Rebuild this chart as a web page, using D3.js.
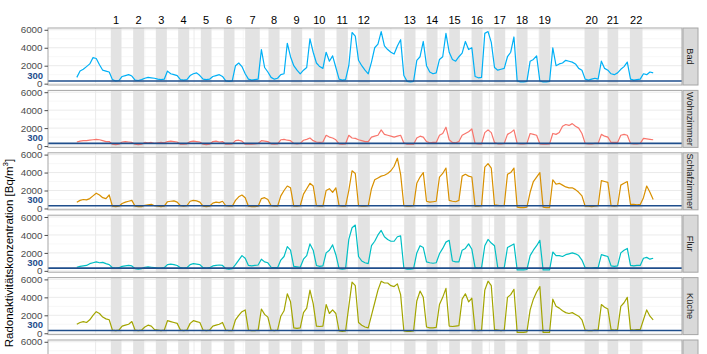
<!DOCTYPE html>
<html>
<head>
<meta charset="utf-8">
<script src="https://cdn.jsdelivr.net/npm/d3@7"></script>
<style>
  body { margin: 0; background: #fff; }
  svg { display: block; font-family: "Liberation Sans", Arial, sans-serif; }
</style>
</head>
<body>
<svg id="chart" width="707" height="354"></svg>
<script>
// rooms (facets) and their colours
const rooms = ["Bad", "Wohnzimmer", "Schlafzimmer", "Flur", "Küche", "Keller"];
const roomColors = ["#00B0F6", "#F8766D", "#D89000", "#00BFC4", "#A3A500", "#39B600"];

// daily values (Bq/m3), day 0 .. 178
const bad = [700,1400,1600,1900,2200,2900,2800,2100,1500,1400,1300,450,300,350,800,900,1000,850,400,350,450,600,700,650,600,500,450,500,1400,1100,1000,900,450,400,450,900,1100,1200,900,500,450,500,800,900,1000,800,300,250,300,2000,2300,1900,1100,500,400,450,500,3800,1800,1300,700,500,600,1000,1100,4500,3000,2000,1500,1100,1500,1800,5000,3500,2300,1900,1700,3500,2500,3100,1800,500,400,450,2000,5700,5300,2600,2000,1500,1100,2400,4000,4400,5800,4200,3800,3500,3300,4200,4900,900,250,200,250,2600,3000,4700,2000,1300,1100,1200,2700,3000,5600,3500,2700,2500,3000,3400,4700,3800,4000,800,650,700,5600,5800,4600,1800,1500,1600,1700,3000,3500,5200,300,200,200,250,2500,2700,3100,300,200,200,250,4000,2000,2200,2300,2600,2500,2400,2200,1700,1500,500,400,500,600,500,2500,1700,1500,1100,1000,1200,1600,1900,2400,500,400,450,500,1100,1000,1300,1200];
const wohnzimmer = [450,550,600,600,650,700,750,700,600,500,500,200,150,200,450,500,450,400,200,150,200,400,350,400,300,350,400,350,500,550,500,450,200,200,250,500,550,500,450,200,150,200,500,550,450,500,200,200,250,600,650,550,200,250,200,250,300,600,550,500,250,200,250,700,750,650,600,300,250,300,650,750,900,600,450,400,450,1200,1000,900,700,250,200,250,1200,900,850,700,600,500,500,1000,1100,1200,1800,1300,1200,1100,1000,1100,1200,350,200,250,200,900,1100,1000,500,350,400,400,1200,1400,2100,700,400,350,500,1200,1400,1600,1900,300,250,250,1500,1800,1500,400,250,250,300,1300,1500,1800,300,250,250,300,1400,1300,1200,250,200,200,250,1400,1300,1500,2200,2400,2300,2500,2200,2000,1400,300,250,250,300,300,1300,1100,1000,400,400,400,1200,1300,1200,300,250,250,300,850,800,750,700];
const schlafzimmer = [700,900,1000,950,1100,1400,1700,1500,1200,1100,1500,250,200,250,550,700,800,900,250,200,200,350,400,450,300,250,200,250,750,800,850,700,300,250,300,800,900,850,700,250,200,250,600,700,650,800,300,250,250,900,1300,1500,1200,250,200,200,250,1100,1200,1000,300,250,250,1400,2000,2500,2300,250,250,300,1600,2200,2800,2500,300,250,250,2000,2200,1800,2300,300,250,250,2000,4200,3900,300,250,250,300,2200,3200,3400,3600,3700,3900,4200,4700,5600,3800,300,250,250,300,2800,3500,4000,800,700,750,800,3500,3900,4500,900,800,750,900,3600,3800,3600,3500,250,250,300,4600,5000,4500,400,350,300,350,3800,4000,4500,150,100,100,150,1800,3000,3500,4000,150,100,100,3200,2700,2800,2600,2400,2300,2300,2100,1800,1400,250,250,200,250,300,3100,3000,2900,300,250,300,2600,2800,3000,450,450,400,450,1200,2500,1800,1000];
const flur = [400,500,550,600,800,900,1000,900,950,800,700,350,300,350,500,550,600,550,250,200,250,400,450,400,350,300,300,350,700,750,700,600,350,300,350,700,800,750,700,350,300,350,550,600,650,600,250,200,250,700,1200,1700,1400,600,550,600,650,1300,1000,900,400,350,350,1200,1600,2700,2300,500,450,400,1300,1700,3000,2300,600,500,550,2000,2300,2900,1800,250,200,250,3500,4800,5100,1600,1100,900,800,2800,3300,4000,4500,3800,3500,3300,3300,3800,3900,300,200,200,250,2000,2800,2600,1000,900,850,900,1900,2500,3200,3400,1100,1000,1000,2300,2500,3000,2400,350,300,350,2800,3500,3100,2800,350,300,350,2600,2800,3000,100,100,100,150,1700,2300,2800,3400,100,100,100,2100,1700,1700,1600,1800,1900,2000,1900,1700,1200,350,300,300,350,350,1800,1700,1600,550,500,550,2000,2300,2500,600,550,600,600,1400,1500,1300,1400];
const kueche = [1000,1200,1300,1200,1500,2000,2400,2200,1800,1600,1500,350,300,350,800,900,1000,1300,350,300,350,700,900,800,400,350,300,350,1400,1300,1200,1100,350,300,350,1100,1400,1300,1200,350,300,350,800,900,1000,1200,350,300,300,1500,2000,2400,2600,350,300,300,350,2700,2100,1800,350,300,350,1900,2500,4400,3500,600,550,600,2300,2800,4800,3300,800,750,800,3200,2200,2600,2200,250,200,250,3000,5700,5300,1200,900,700,600,2000,3400,4800,5800,5600,5600,5300,5200,5500,4300,250,200,200,250,3600,4700,4000,700,600,600,650,3200,4000,5000,800,750,800,850,3800,4400,3500,3900,350,300,350,4800,5800,5300,400,350,300,350,4000,4300,4900,100,100,100,150,2600,3800,4600,5200,100,100,100,3800,3000,2800,2500,2300,2200,2300,2100,1900,1500,350,300,300,350,350,3200,2900,2700,400,350,400,3000,3400,4000,400,350,400,400,1500,2600,1900,1500];
const seriesValues = [bad, wohnzimmer, schlafzimmer, flur, kueche, []];

// shaded periods (day from .. to) with their numbers
const bandStart = [10.5,17.4,24.4,31.3,38.3,45.4,52.0,59.2,66.2,73.2,80.2,86.8,101.1,108.0,115.0,121.9,128.9,135.8,142.8,156.8,163.9,170.8];
const bandEnd   = [13.8,20.8,27.8,34.7,41.6,48.7,56.5,62.6,69.6,76.6,83.7,90.5,104.6,111.4,118.3,125.3,132.3,139.2,146.2,161.2,167.2,174.7];
const bandLabels = d3.range(1, 23).map(String);

// axis ticks
const yMajor = [0, 2000, 4000, 6000];
const yMinor = [1000, 3000, 5000];
const xMajor = [5.8, 36.2, 66.6, 97.0, 127.4, 157.8];
const xMinor = [-9, 21, 51.4, 81.8, 112.2, 142.6, 173];
const limit = 300;

// layout
const svg = d3.select("#chart");
const svgH = +svg.attr("height");
const plotLeft = 48, plotRight = 682, plotTop = 28;
const panelH = 57, pitch = 62.4;

const x = d3.scaleLinear().domain([-8.9, 186.9]).range([plotLeft, plotRight]);
const y = d3.scaleLinear().domain([-150, 6200]).range([panelH, 0]);

svg.append("defs").append("clipPath").attr("id", "panel-clip")
    .append("rect").attr("x", plotLeft).attr("y", 0).attr("width", plotRight - plotLeft).attr("height", panelH);

const line = d3.line().x((d, i) => x(i)).y(d => y(d));

rooms.forEach((room, p) => {
    const offset = plotTop + p * pitch;
    const g = svg.append("g").attr("transform", `translate(0, ${offset})`);
    const visible = v => offset + y(v) < svgH - 4; // the last panel is cut by the picture edge

    g.append("rect").attr("x", plotLeft).attr("y", 0).attr("width", plotRight - plotLeft).attr("height", panelH)
        .attr("fill", "#fff");

    // grid
    g.selectAll(".ymin").data(yMinor).enter().append("line")
        .attr("x1", plotLeft).attr("x2", plotRight).attr("y1", d => y(d)).attr("y2", d => y(d))
        .attr("stroke", "#F2F2F2").attr("stroke-width", 0.6);
    g.selectAll(".xmin").data(xMinor.filter(d => x(d) > plotLeft && x(d) < plotRight)).enter().append("line")
        .attr("y1", 0).attr("y2", panelH).attr("x1", d => x(d)).attr("x2", d => x(d))
        .attr("stroke", "#F2F2F2").attr("stroke-width", 0.6);
    g.selectAll(".ymaj").data(yMajor).enter().append("line")
        .attr("x1", plotLeft).attr("x2", plotRight).attr("y1", d => y(d)).attr("y2", d => y(d))
        .attr("stroke", "#EBEBEB").attr("stroke-width", 1);
    g.selectAll(".xmaj").data(xMajor).enter().append("line")
        .attr("y1", 0).attr("y2", panelH).attr("x1", d => x(d)).attr("x2", d => x(d))
        .attr("stroke", "#EBEBEB").attr("stroke-width", 1);

    // shaded periods
    g.selectAll(".band").data(bandStart).enter().append("rect")
        .attr("x", d => x(d)).attr("y", 0)
        .attr("width", (d, i) => x(bandEnd[i]) - x(d)).attr("height", panelH)
        .attr("fill", "#E3E3E3");

    // series
    const vals = seriesValues[p];
    if (vals.length) {
        g.append("path").datum(vals)
            .attr("clip-path", "url(#panel-clip)")
            .attr("d", line)
            .attr("fill", "none")
            .attr("stroke", roomColors[p])
            .attr("stroke-width", 1.2)
            .attr("stroke-linejoin", "round");
    }

    // 300 Bq/m3 reference
    g.append("line").attr("x1", plotLeft).attr("x2", plotRight)
        .attr("y1", y(limit)).attr("y2", y(limit))
        .attr("stroke", "#1F4E8C").attr("stroke-width", 1.6);

    g.append("rect").attr("x", plotLeft).attr("y", 0).attr("width", plotRight - plotLeft).attr("height", panelH)
        .attr("fill", "none").attr("stroke", "#A6A6A6").attr("stroke-width", 1);

    // y axis
    const ax = g.append("g").attr("transform", `translate(${plotLeft}, 0)`)
        .call(d3.axisLeft(y).tickValues(yMajor.filter(visible)).tickFormat(d3.format("d")).tickSize(3.5).tickPadding(2));
    ax.select(".domain").remove();
    ax.selectAll(".tick line").attr("stroke", "#4D4D4D");
    ax.selectAll(".tick text").attr("fill", "#4D4D4D").attr("font-size", 9.8)
        .attr("font-family", "'Liberation Sans', Arial, sans-serif");

    if (visible(limit)) {
        g.append("text").attr("x", plotLeft - 5).attr("y", y(limit) - 2.3)
            .attr("text-anchor", "end").attr("font-size", 9.5).attr("font-weight", "bold")
            .attr("fill", "#1F4E8C").text(limit);
    }

    // strip
    g.append("rect").attr("x", plotRight + 1).attr("y", 0).attr("width", 15).attr("height", panelH)
        .attr("fill", "#D9D9D9").attr("stroke", "#A6A6A6").attr("stroke-width", 1);
    if (offset + panelH / 2 < svgH) {
        g.append("text")
            .attr("transform", `translate(${plotRight + 8.5}, ${panelH / 2}) rotate(90)`)
            .attr("text-anchor", "middle").attr("dy", "0.35em")
            .attr("font-size", 9.2).attr("fill", "#1A1A1A").text(room);
    }
});

// period numbers
svg.selectAll(".bandlabel").data(bandLabels).enter().append("text")
    .attr("x", (d, i) => x((bandStart[i] + bandEnd[i]) / 2))
    .attr("y", 23.5)
    .attr("text-anchor", "middle").attr("font-size", 11).attr("fill", "#000")
    .text(d => d);

// y title
const title = svg.append("text")
    .attr("transform", "translate(13, 253) rotate(-90)")
    .attr("text-anchor", "middle").attr("font-size", 11.5).attr("fill", "#000");
title.append("tspan").text("Radonaktivitätskonzentration [Bq/m");
title.append("tspan").attr("font-size", 8).attr("dy", -5).text("3");
title.append("tspan").attr("dy", 5).text("]");
</script>
</body>
</html>
